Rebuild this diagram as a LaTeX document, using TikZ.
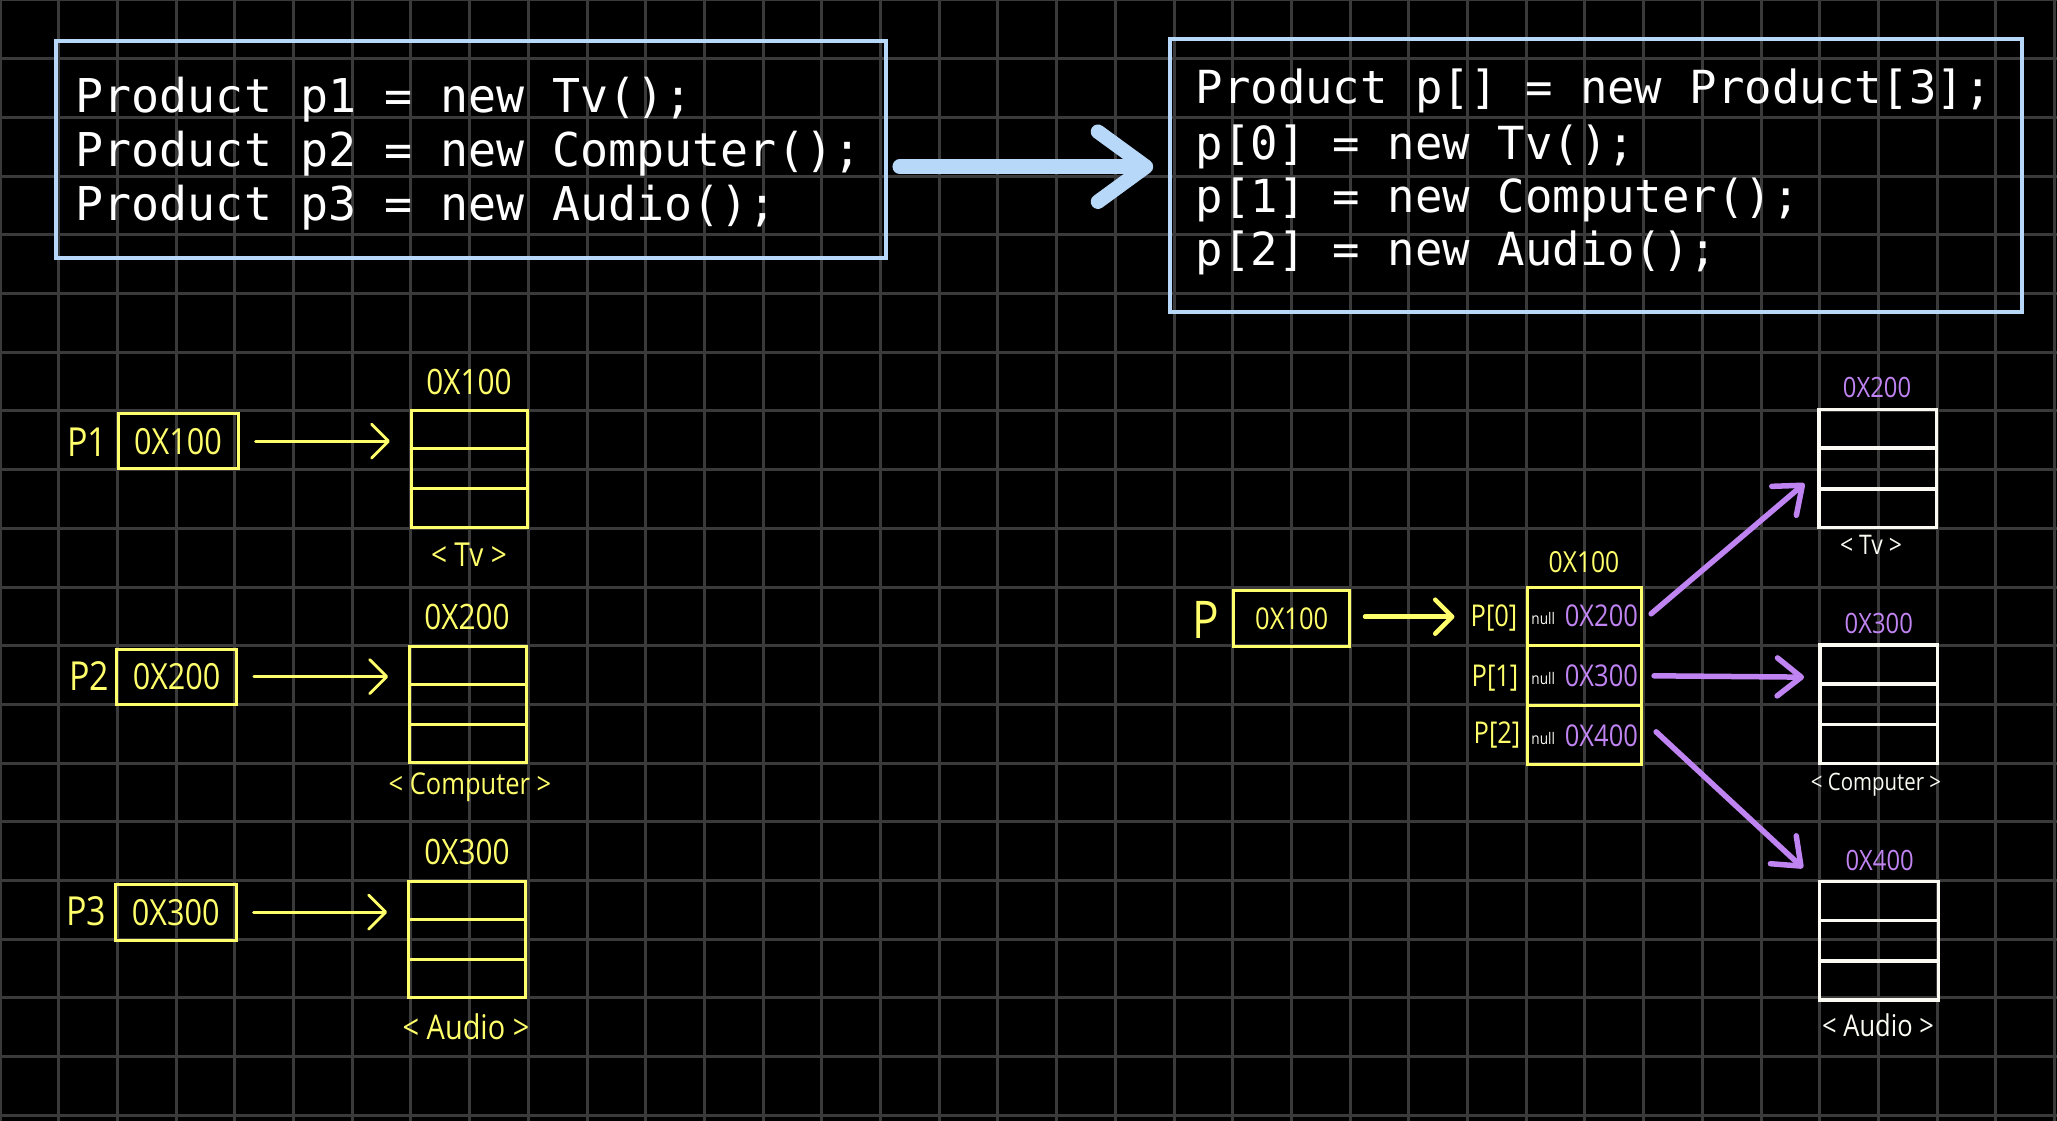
\documentclass[tikz,border=0pt]{standalone}
\usepackage{fontspec}
\setmonofont{DejaVu Sans Mono}
\newfontfamily\hand[FakeStretch=0.85]{Open Sans}
\usetikzlibrary{arrows.meta,calc}
\definecolor{gridc}{HTML}{3A3A3A}
\definecolor{codeblue}{HTML}{B8D8FA}
\definecolor{hy}{HTML}{FFFF6B}
\definecolor{hp}{HTML}{C084F2}
\definecolor{hw}{HTML}{FAFAF2}
\newcommand{\hs}[1]{\hand\fontsize{#1}{#1}\selectfont}
\newcommand{\splitthree}[3]{%
  \draw[#2,line width=#3] ($(#1.north west)!1/3!(#1.south west)$) -- ($(#1.north east)!1/3!(#1.south east)$)
    ($(#1.north west)!2/3!(#1.south west)$) -- ($(#1.north east)!2/3!(#1.south east)$);}
\begin{document}
\begin{tikzpicture}[x=1pt,y=-1pt,
  gridline/.style={draw=gridc,line width=3pt},
  codebox/.style={draw=codeblue,line width=4pt,inner sep=0pt},
  codeL/.style={anchor=base west,inner sep=0pt,text=white,font=\ttfamily\fontsize{46.6}{54}\selectfont},
  codeR/.style={anchor=base west,inner sep=0pt,text=white,font=\ttfamily\fontsize{45.6}{54}\selectfont},
  bigarrow/.style={draw=codeblue,line width=14.5pt,line cap=round,-{Straight Barb[length=48pt,width=70pt,round]}},
  ylbl/.style={inner sep=0pt,text=hy},
  plbl/.style={inner sep=0pt,text=hp},
  wlbl/.style={inner sep=0pt,text=hw},
  ptrbox/.style={draw=hy,line width=3pt,inner sep=0pt,text=hy},
  objY/.style={draw=hy,line width=3pt,inner sep=0pt},
  objW/.style={draw=hw,line width=3.5pt,inner sep=0pt},
  thinY/.style={draw=hy,line width=2.8pt,line cap=round,-{Straight Barb[length=17pt,width=34pt,round]}},
  thickY/.style={draw=hy,line width=4.5pt,line cap=round,-{Straight Barb[length=17pt,width=34pt,round]}},
  purp/.style={draw=hp,line width=5.5pt,line cap=round,-{Straight Barb[length=24pt,width=38pt,round]}},
  cellval/.style={plbl,anchor=east,font=\hs{30}},
  cellnull/.style={wlbl,anchor=west,font=\hs{16}}
]
\fill[black] (0,0) rectangle (2057,1121);
\useasboundingbox (0,0) rectangle (2057,1121);
\foreach \i in {0,...,35} {\draw[gridline] (\i*58.7,0) -- (\i*58.7,1121);}
\foreach \j in {0,...,19} {\draw[gridline] (0,\j*58.7) -- (2057,\j*58.7);}

% code boxes
\node[codebox,minimum width=830,minimum height=217] (cb1) at (470.7,149.2) {};
\node[codeL] (l1) at (75.5,112.7) {Product p1 = new Tv();};
\node[codeL] (l2) at (75.5,166.7) {Product p2 = new Computer();};
\node[codeL] (l3) at (75.5,220.7) {Product p3 = new Audio();};

\node[codebox,minimum width=852,minimum height=272.4] (cb2) at (1596.2,175.5) {};
\node[codeR] (r1) at (1195.5,104) {Product p[] = new Product[3];};
\node[codeR] (r2) at (1195.5,159.3) {p[0] = new Tv();};
\node[codeR] (r3) at (1195.5,212.3) {p[1] = new Computer();};
\node[codeR] (r4) at (1195.5,265.3) {p[2] = new Audio();};

\draw[bigarrow] ($(cb1.east)+(12,17.5)$) -- ($(cb1.east -| cb2.west)+(-15,17.5)$);

% ---------- left: separate objects ----------
\node[ylbl,font=\hs{40}] (lp1) at (87,442) {P1};
\node[ptrbox,minimum width=120,minimum height=54.5,font=\hs{36}] (b1) at (178,441.2) {0X100};
\node[objY,minimum width=116.5,minimum height=116.3] (o1) at (469.65,468.85) {};
\splitthree{o1}{hy}{3pt}
\node[ylbl,font=\hs{35}] (a1) at (469,382) {0X100};
\node[ylbl,font=\hs{33}] (t1) at (469,555) {< Tv >};
\draw[thinY] ($(b1.east)+(16,0)$) -- ($(b1.east -| o1.west)+(-20,0)$);

\node[ylbl,font=\hs{40}] (lp2) at (89,676) {P2};
\node[ptrbox,minimum width=119.6,minimum height=55.3,font=\hs{36}] (b2) at (176.6,676.65) {0X200};
\node[objY,minimum width=116.8,minimum height=116.7] (o2) at (468,704.35) {};
\splitthree{o2}{hy}{3pt}
\node[ylbl,font=\hs{35}] (a2) at (467,617) {0X200};
\node[ylbl,font=\hs{30}] (t2) at (470,787) {< Computer >};
\draw[thinY] ($(b2.east)+(16,0)$) -- ($(b2.east -| o2.west)+(-20,0)$);

\node[ylbl,font=\hs{40}] (lp3) at (86,911) {P3};
\node[ptrbox,minimum width=120.6,minimum height=55.7,font=\hs{36}] (b3) at (175.7,912.15) {0X300};
\node[objY,minimum width=116.4,minimum height=116] (o3) at (466.8,939.7) {};
\splitthree{o3}{hy}{3pt}
\node[ylbl,font=\hs{35}] (a3) at (467,852) {0X300};
\node[ylbl,font=\hs{34}] (t3) at (466,1027) {< Audio >};
\draw[thinY] ($(b3.east)+(16,0)$) -- ($(b3.east -| o3.west)+(-20,0)$);

% ---------- right: array ----------
\node[ylbl,font=\hs{52}] (pl) at (1206,620) {P};
\node[ptrbox,minimum width=115.6,minimum height=56,font=\hs{30}] (pb) at (1291.7,618.7) {0X100};
\node[objY,minimum width=113.9,minimum height=177] (arr) at (1584.65,675.8) {};
\splitthree{arr}{hy}{3pt}
\node[ylbl,font=\hs{29}] (aa) at (1584,562) {0X100};
\node[ylbl,font=\hs{30}] (i0) at (1494,618.3) {P[0]};
\node[ylbl,font=\hs{30}] (i1) at (1495,678.3) {P[1]};
\node[ylbl,font=\hs{30}] (i2) at (1497,735) {P[2]};
\draw[thickY] ($(pb.east)+(14,-2)$) -- ($(pb.east -| i0.west)+(-16,-2)$);

\coordinate (q0) at ($(arr.north)!1/6!(arr.south)$);
\coordinate (q1) at ($(arr.north)!3/6!(arr.south)$);
\coordinate (q2) at ($(arr.north)!5/6!(arr.south)$);
\node[cellnull] (n0) at ($(q0 -| arr.west)+(5,3)$) {null};
\node[cellnull] (n1) at ($(q1 -| arr.west)+(5,3)$) {null};
\node[cellnull] (n2) at ($(q2 -| arr.west)+(5,3)$) {null};
\node[cellval] (c0) at ($(q0 -| arr.east)+(-5,0)$) {0X200};
\node[cellval] (c1) at ($(q1 -| arr.east)+(-5,0)$) {0X300};
\node[cellval] (c2) at ($(q2 -| arr.east)+(-5,0)$) {0X400};

% objects
\node[objW,minimum width=117.4,minimum height=118.4] (tv) at (1877.9,468.5) {};
\splitthree{tv}{hw}{3.5pt}
\node[plbl,font=\hs{28}] (ta) at (1877,387.3) {0X200};
\node[wlbl,font=\hs{27}] (tt) at (1871,545) {< Tv >};

\node[objW,minimum width=117.9,minimum height=118.3] (cp) at (1878.75,704.15) {};
\splitthree{cp}{hw}{3.5pt}
\node[plbl,font=\hs{28}] (ca) at (1878.8,623.3) {0X300};
\node[wlbl,font=\hs{24}] (ct) at (1876,785) {< Computer >};

\node[objW,minimum width=118.9,minimum height=118.3] (au) at (1879.15,940.85) {};
\splitthree{au}{hw}{3.5pt}
\node[plbl,font=\hs{28}] (aua) at (1879.7,860) {0X400};
\node[wlbl,font=\hs{30}] (aut) at (1878,1025) {< Audio >};

\draw[purp] ($(arr.north east)!1/6!(arr.south east)+(8,-2)$) -- ($(tv.west)+(-13,15)$);
\draw[purp] ($(arr.north east)!3/6!(arr.south east)+(11,0)$) -- ($(cp.west)+(-14,-27)$);
\draw[purp] ($(arr.north east)!5/6!(arr.south east)+(13,-4)$) -- ($(au.north west)+(-15,-12)$);
\end{tikzpicture}
\end{document}
